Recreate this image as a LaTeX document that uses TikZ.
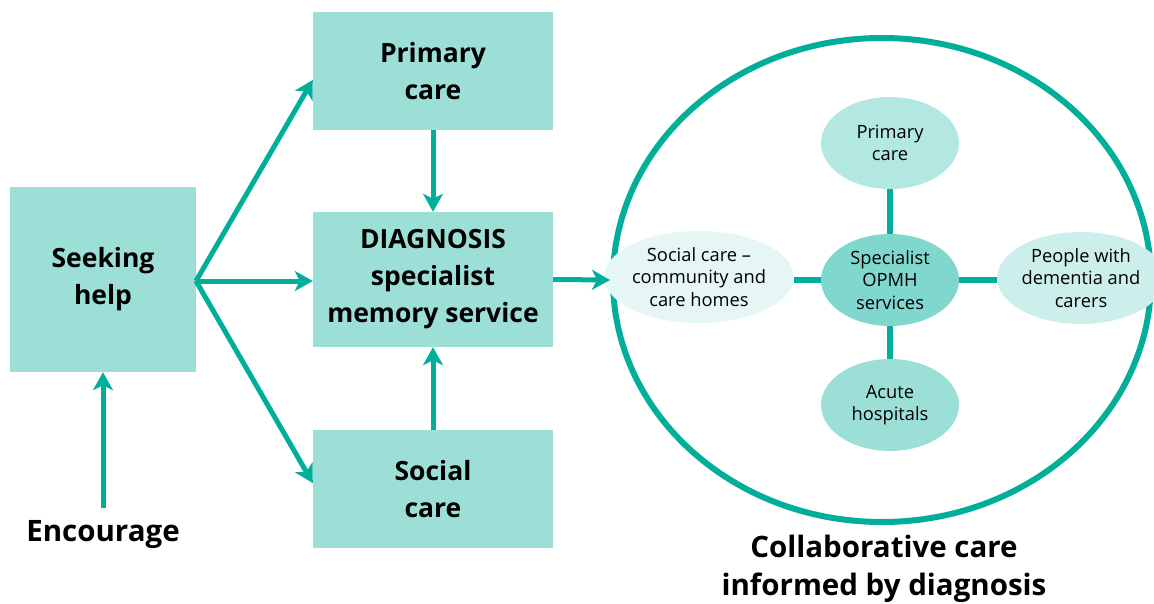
\documentclass[tikz,border=0pt]{standalone}
\usepackage{fontspec}
\setmainfont{Open Sans}
\usetikzlibrary{arrows.meta,shapes.geometric}
\definecolor{teal1}{HTML}{00AE99}
\definecolor{boxfill}{HTML}{9CDFD7}
\definecolor{ecenter}{HTML}{80D7CE}
\definecolor{eprim}{HTML}{B3E7E1}
\definecolor{esoc}{HTML}{E6F6F4}
\definecolor{epeop}{HTML}{CDEFEB}
\definecolor{eacute}{HTML}{9CDFD7}
\tikzset{
  box/.style={fill=boxfill,draw=none,align=center,font=\fontsize{26.5}{37}\selectfont\bfseries,inner sep=0pt},
  arr/.style={draw=teal1,line width=5pt,-{Stealth[length=18pt,width=20pt,inset=5pt]}},
  link/.style={draw=teal1,line width=6pt},
  oval/.style={ellipse,draw=none,minimum width=138pt,minimum height=92pt,inner sep=0pt,align=center,font=\fontsize{18.3}{22.5}\selectfont},
  big/.style={font=\fontsize{29.5}{38}\selectfont\bfseries,align=center}
}
\begin{document}
\begin{tikzpicture}[x=1pt,y=-1pt]
\useasboundingbox (0,0) rectangle (1154,604);
% boxes
\node[box,minimum width=186pt,minimum height=185pt] (seek) at (103,279.5) {Seeking\\help};
\node[box,minimum width=240pt,minimum height=118pt] (prim) at (433,71) {Primary\\care};
\node[box,minimum width=240pt,minimum height=135pt] (diag) at (433,279.5) {DIAGNOSIS\\specialist\\memory service};
\node[box,minimum width=240pt,minimum height=118pt] (soc) at (433,489) {Social\\care};
\node[big] (enc) at (103,535) {Encourage};
% big ellipse
\node[ellipse,draw=teal1,line width=6pt,minimum width=538pt,minimum height=484pt,inner sep=0pt] (coll) at (882,280) {};
\node[big] (title) at (884,569) {Collaborative care\\informed by diagnosis};
% small ellipses
\node[oval,fill=ecenter] (spec) at (890,280) {Specialist\\OPMH\\services};
\node[oval,fill=eprim] (pc) at (890,143) {Primary\\care};
\node[oval,fill=eacute] (ac) at (890,405) {Acute\\hospitals};
\node[oval,fill=esoc] (sc) at (699,277) {Social care --\\community and\\care homes};
\node[oval,fill=epeop] (pd) at (1081,278) {People with\\dementia and\\carers};
% links
\draw[link] (spec) -- (pc);
\draw[link] (spec) -- (ac);
\draw[link] (spec.west) -- (sc.east |- spec.west);
\draw[link] (spec.east) -- (pd.west |- spec.east);
% arrows
\coordinate (hub) at (196,281);
\draw[arr] (hub) -- (prim.west |- 0,80);
\draw[arr] (hub) -- (diag.west |- hub);
\draw[arr] (hub) -- (soc.west |- 0,483);
\draw[arr] (enc.north |- 0,508) -- (seek.south);
\draw[arr] (prim.south) -- (diag.north);
\draw[arr] (soc.north) -- (diag.south);
\draw[arr] (diag.east) -- (coll.west);
\end{tikzpicture}
\end{document}
